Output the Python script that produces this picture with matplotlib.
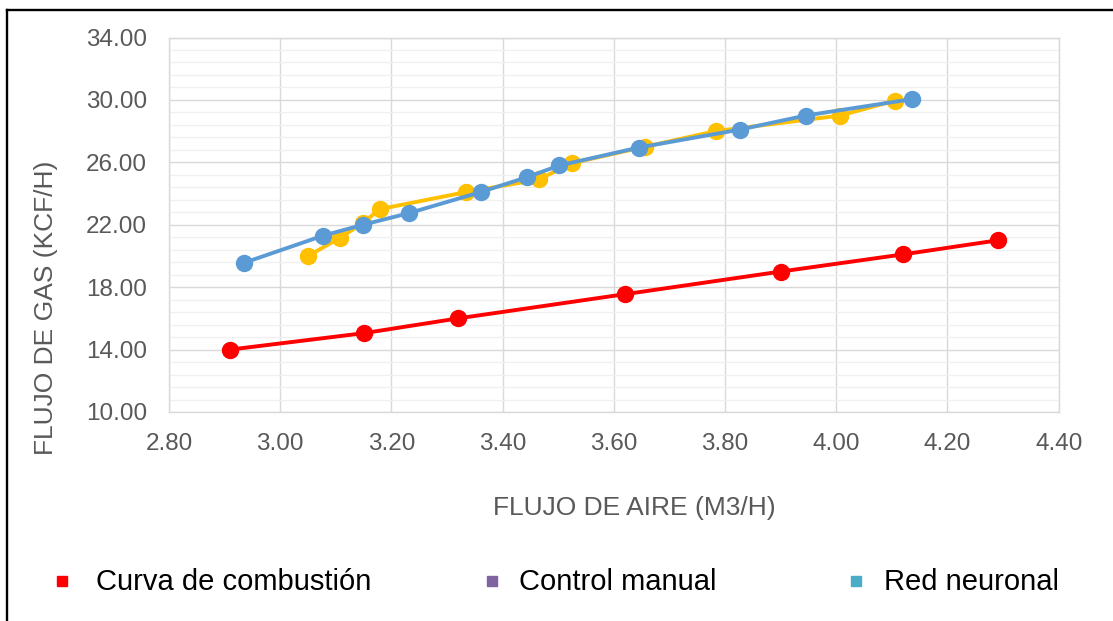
import matplotlib
matplotlib.use("Agg")
import numpy as np
import matplotlib.pyplot as plt
from matplotlib.lines import Line2D
from matplotlib.ticker import FixedLocator, MultipleLocator, FormatStrFormatter

plt.rcParams['font.family'] = ['Liberation Sans', 'DejaVu Sans']

# ---- data ----
curva_x = [2.91, 3.15, 3.32, 3.62, 3.90, 4.12, 4.29]
curva_y = [14.0, 15.05, 16.0, 17.55, 19.0, 20.1, 21.0]

manual_x = [3.05, 3.107, 3.148, 3.179, 3.335, 3.465, 3.525, 3.656, 3.783, 4.007, 4.105]
manual_y = [20.0, 21.15, 22.1, 23.0, 24.1, 24.9, 25.95, 27.0, 28.0, 29.0, 29.95]

red_x = [2.934, 3.077, 3.149, 3.232, 3.361, 3.444, 3.502, 3.645, 3.827, 3.945, 4.136]
red_y = [19.55, 21.3, 22.0, 22.75, 24.1, 25.05, 25.8, 26.95, 28.1, 29.0, 30.05]

y_ticks = [10, 14, 18, 22, 26, 30, 34]
series_names = ["Curva de combustión", "Control manual", "Red neuronal"]
legend_colors = ["#FF0000", "#8064A2", "#4BACC6"]

W, H = 1113, 621
fig = plt.figure(figsize=(W / 100, H / 100), dpi=100)

def fx(px):
    return px / W

def fy(py):
    return 1 - py / H

left, right, top, bottom = 169, 1058.7, 37.5, 412
ax = fig.add_axes([fx(left), fy(bottom), (right - left) / W, (bottom - top) / H])

ax.plot(curva_x, curva_y, color="#FF0000", lw=2.8, marker="o", ms=11.5, zorder=3)
ax.plot(manual_x, manual_y, color="#FFC000", lw=2.8, marker="o", ms=11.5, zorder=4)
ax.plot(red_x, red_y, color="#5B9BD5", lw=2.8, marker="o", ms=11.5, zorder=5)

ax.set_xlim(2.8, 4.4)
ax.set_ylim(10, 34)
ax.xaxis.set_major_locator(MultipleLocator(0.2))
ax.yaxis.set_major_locator(FixedLocator(y_ticks))
ax.yaxis.set_minor_locator(FixedLocator(np.arange(10, 34.01, 0.8)))
ax.xaxis.set_major_formatter(FormatStrFormatter("%.2f"))
ax.yaxis.set_major_formatter(FormatStrFormatter("%.2f"))

ax.grid(which="major", color="#D9D9D9", lw=1.0, zorder=1)
ax.grid(which="minor", axis="y", color="#F0F0F0", lw=1.0, zorder=0)
ax.set_axisbelow(True)
for s in ax.spines.values():
    s.set_color("#D9D9D9")
    s.set_linewidth(1.0)

ax.tick_params(which="both", length=0)
ax.tick_params(axis="y", pad=16, labelsize=17.5, labelcolor="#595959")
ax.tick_params(axis="x", pad=15, labelsize=17.5, labelcolor="#595959")

fig.text(fx(634), fy(508), "FLUJO DE AIRE (M3/H)", ha="center", va="center",
         fontsize=19, color="#595959")
fig.text(fx(46), fy(308), "FLUJO DE GAS (KCF/H)", ha="center", va="center",
         rotation=90, fontsize=19, color="#595959")

# legend (manual placement)
marker_px = [62, 492, 856]
text_px = [96, 519, 884]
ly = 582
for name, col, mx, tx in zip(series_names, legend_colors, marker_px, text_px):
    fig.add_artist(Line2D([fx(mx)], [fy(ly - 1)], marker="s", ms=6.5, color=col,
                          linestyle="none", transform=fig.transFigure))
    fig.text(fx(tx), fy(ly), name, ha="left", va="center", fontsize=21, color="#000000")

# outer border (top and left visible)
fig.add_artist(Line2D([fx(7), fx(W + 5)], [fy(9.5), fy(9.5)], color="black", lw=1.7,
                      transform=fig.transFigure))
fig.add_artist(Line2D([fx(7.2), fx(7.2)], [fy(9.5), fy(H + 5)], color="black", lw=1.7,
                      transform=fig.transFigure))

fig.savefig("out.png", dpi=100)
